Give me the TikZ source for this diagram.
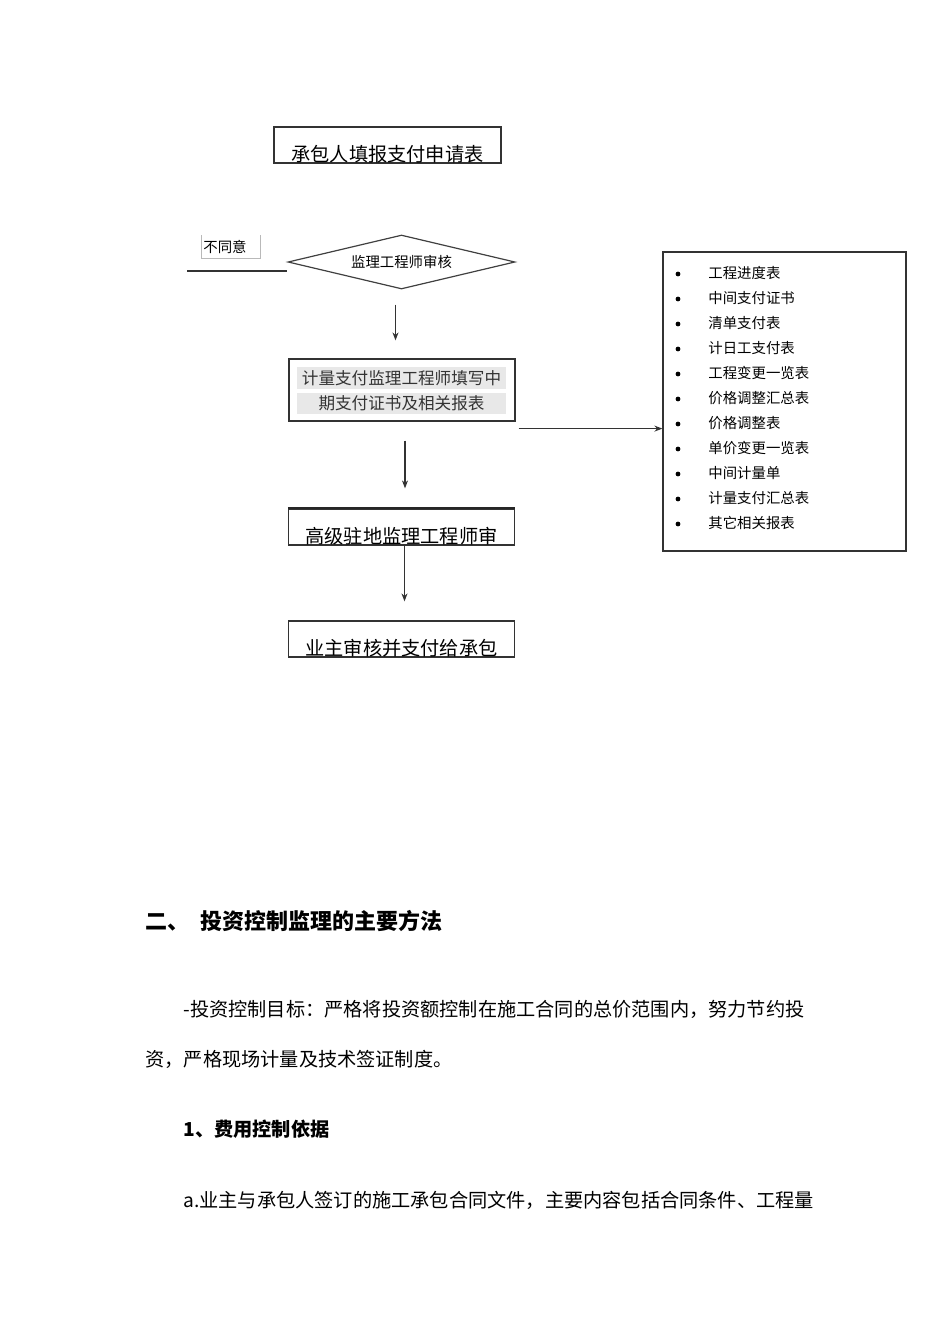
\documentclass[tikz,border=0pt]{standalone}
\usepackage{fontspec}
\setmainfont{Noto Sans CJK SC}
\usetikzlibrary{arrows.meta,shapes.geometric}

\tikzset{
  box/.style={draw=black!80, line width=0.6pt, minimum width=113pt, minimum height=18pt, inner sep=0pt},
  boxtext/.style={anchor=base, inner sep=0pt, font=\fontsize{9.6pt}{11pt}\selectfont},
  small/.style={inner sep=0pt, font=\fontsize{7.2pt}{9pt}\selectfont},
  arr/.style={draw=black!80, line width=0.6pt, -{Stealth[length=4pt,width=3pt]}},
  body/.style={anchor=base west, inner sep=0pt, font=\fontsize{9.6pt}{11pt}\selectfont},
  head/.style={anchor=base west, inner sep=0pt, font=\bfseries\fontsize{11pt}{13pt}\selectfont}
}

\begin{document}
\begin{tikzpicture}[x=0.5pt,y=-0.5pt]
\useasboundingbox (0,0) rectangle (950,1344);

% flow chart boxes
\node[box, minimum width=113.5pt] (apply) at (387.5,145) {};
\node[boxtext] (applyt) at (387.5,161) {承包人填报支付申请表};

\node[draw=black!75, line width=0.6pt, diamond, aspect=4.2, minimum width=113.5pt, minimum height=27pt, inner sep=0pt, small] (chk) at (401.5,262) {监理工程师审核};

\node[small, anchor=west] (no) at (203,247) {不同意};
\draw[gray!55, line width=0.4pt] (201,235) -- (201,258) -- (260,258) -- (260,235);
\coordinate (rej) at (187,271);
\draw[black!80, line width=0.6pt] (rej) -- (rej -| chk.west);

\node[box, minimum height=31pt] (fill) at (402,390) {};
\fill[gray!18] (297,367) rectangle (506,389);
\fill[gray!18] (297,393) rectangle (506,414);
\node[inner sep=0pt, text=black!80, font=\fontsize{8.3pt}{10pt}\selectfont] (fill1) at (401.5,378) {计量支付监理工程师填写中};
\node[inner sep=0pt, text=black!80, font=\fontsize{8.3pt}{10pt}\selectfont] (fill2) at (401.5,403.5) {期支付证书及相关报表};

\node[box] (sen) at (401.5,527) {};
\draw[black!85, line width=1pt] (sen.north west) -- (sen.north east);
\node[boxtext] (sent) at (401.5,543) {高级驻地监理工程师审};

\node[box] (own) at (401.5,639) {};
\node[boxtext] (ownt) at (401.5,655) {业主审核并支付给承包};

% list of reports
\node[draw=black!80, line width=0.6pt, minimum width=121.5pt, minimum height=149.5pt, inner sep=0pt] (list) at (784.5,401.5) {};
\foreach \t [count=\i] in {工程进度表,中间支付证书,清单支付表,计日工支付表,工程变更一览表,价格调整汇总表,价格调整表,单价变更一览表,中间计量单,计量支付汇总表,其它相关报表}{
  \fill (678,{274+25*(\i-1)}) circle (1.2pt);
  \node[small, anchor=west] (item\i) at (708,{273+25*(\i-1)}) {\t};
}

% connectors
\draw[arr, shorten <=7.5pt, shorten >=9pt] ([xshift=-3pt]chk.south) -- ([xshift=-3pt]chk.south |- fill.north);
\draw[arr, shorten <=9.5pt, shorten >=10pt] ([xshift=1.5pt]fill.south) -- ([xshift=1.5pt]fill.south |- sen.north);
\draw[arr, shorten >=9.5pt] ([xshift=1.5pt]sen.south) -- ([xshift=1.5pt]sen.south |- own.north);
\draw[arr] ([xshift=1.5pt,yshift=-3.5pt]fill.south east) -- ([yshift=-3.5pt]fill.south east -| list.west);

% text below
\node[head] (sec) at (145,929) {二、};
\node[head] (sect) at (200,929) {投资控制监理的主要方法};
\node[body] (par1) at (183,1016) {-投资控制目标：严格将投资额控制在施工合同的总价范围内，努力节约投};
\node[body] (par2) at (145,1066) {资，严格现场计量及技术签证制度。};
\node[body, font=\bfseries\fontsize{9.6pt}{11pt}\selectfont] (sub) at (183,1136) {1、费用控制依据};
\node[body] (par3) at (183,1207) {a.业主与承包人签订的施工承包合同文件，主要内容包括合同条件、工程量};
\end{tikzpicture}
\end{document}
